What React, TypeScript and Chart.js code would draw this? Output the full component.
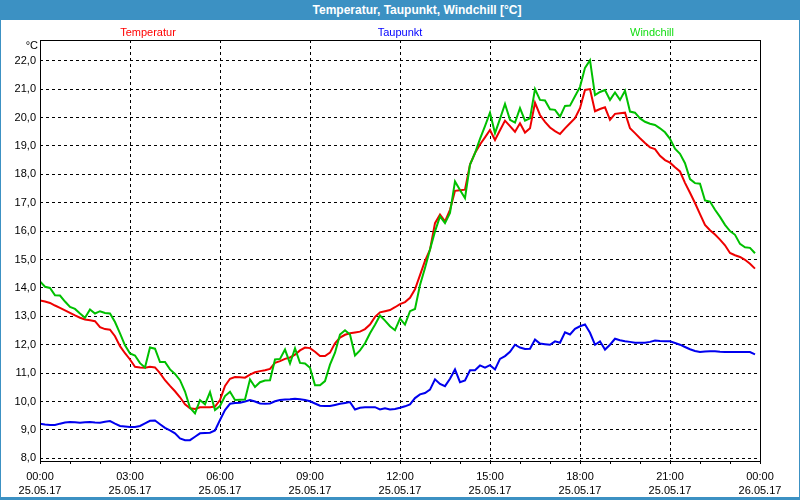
import React, { useEffect, useRef } from "react";
import { Chart, registerables } from "chart.js";

Chart.register(...registerables);

// --- data (10-minute samples, 25.05.17 00:00 .. 23:50) ---
const sampleMinutes = 10;

const temperatur = [
  13.56, 13.52, 13.47, 13.38, 13.3, 13.21, 13.12, 13.03, 12.95, 12.89, 12.86, 12.83,
  12.62, 12.55, 12.53, 12.3, 11.95, 11.7, 11.48, 11.22, 11.2, 11.19, 11.22, 11.2,
  11.0, 10.75, 10.55, 10.36, 10.15, 9.9, 9.76, 9.74, 9.8, 9.8, 9.8, 9.82,
  10.05, 10.55, 10.8, 10.86, 10.85, 10.84, 10.95, 11.03, 11.07, 11.1, 11.15, 11.36,
  11.42, 11.5, 11.55, 11.65, 11.8, 11.9, 11.88, 11.75, 11.6, 11.6, 11.72, 12.05,
  12.25, 12.35, 12.4, 12.43, 12.46, 12.55, 12.71, 12.98, 13.14, 13.18, 13.22, 13.32,
  13.43, 13.5, 13.65, 13.95, 14.45, 14.95, 15.35, 16.28, 16.58, 16.34, 16.75, 17.42,
  17.44, 17.46, 18.34, 18.75, 19.05, 19.3, 19.56, 19.21, 19.55, 19.89, 19.7, 19.5,
  19.8, 19.47, 19.62, 20.52, 20.09, 19.85, 19.65, 19.52, 19.42, 19.62, 19.8, 19.98,
  20.33, 20.97, 21.0, 20.22, 20.3, 20.36, 19.92, 20.13, 20.15, 20.17, 19.62, 19.45,
  19.27, 19.1, 18.95, 18.89, 18.65, 18.5, 18.41, 18.25, 18.1, 17.7, 17.35, 16.99,
  16.6, 16.22, 16.03, 15.88, 15.7, 15.5, 15.23, 15.15, 15.09, 14.99, 14.85, 14.68,
];

const taupunkt = [
  9.22, 9.19, 9.17, 9.17, 9.22, 9.26, 9.28, 9.27, 9.25, 9.27, 9.28, 9.26,
  9.25, 9.29, 9.31, 9.22, 9.14, 9.12, 9.1, 9.1, 9.14, 9.23, 9.32, 9.33,
  9.2, 9.07, 8.98, 8.88, 8.7, 8.64, 8.64, 8.76, 8.88, 8.89, 8.9, 8.98,
  9.35, 9.7, 9.92, 9.95, 9.96, 10.0, 10.05, 10.0, 9.93, 9.92, 9.93, 10.01,
  10.05, 10.07, 10.08, 10.1, 10.08, 10.05, 10.01, 9.93, 9.85, 9.84, 9.84, 9.88,
  9.92, 9.95, 9.98, 9.72, 9.78, 9.8, 9.8, 9.8, 9.72, 9.76, 9.72, 9.74,
  9.78, 9.83, 9.9, 10.12, 10.25, 10.3, 10.42, 10.78, 10.62, 10.54, 10.8, 11.13,
  10.68, 10.74, 11.1, 11.1, 11.27, 11.19, 11.28, 11.13, 11.5, 11.6, 11.75, 12.0,
  11.9, 11.85, 11.86, 12.18, 12.04, 12.02, 12.0, 12.12, 12.07, 12.44, 12.36, 12.56,
  12.65, 12.71, 12.42, 12.0, 12.12, 11.83, 12.0, 12.21, 12.16, 12.12, 12.1, 12.07,
  12.07, 12.07, 12.1, 12.15, 12.13, 12.12, 12.12, 12.06, 12.0, 11.92, 11.84, 11.78,
  11.74, 11.76, 11.77, 11.77, 11.75, 11.74, 11.74, 11.74, 11.74, 11.74, 11.74, 11.66,
];

const windchill = [
  14.23, 14.04, 14.0, 13.74, 13.73, 13.52, 13.33, 13.26, 13.1, 12.95, 13.24, 13.1,
  13.18, 13.12, 13.1, 12.8, 12.4, 11.98, 11.69, 11.62, 11.35, 11.2, 11.9, 11.86,
  11.39, 11.39, 11.13, 10.97, 10.75, 10.35, 9.78, 9.58, 10.05, 9.9, 10.33, 9.7,
  9.84, 10.19, 10.34, 10.05, 10.06, 10.07, 10.78, 10.51, 10.68, 10.74, 10.75, 11.48,
  11.5, 11.83, 11.34, 11.87, 11.36, 11.34, 11.19, 10.57, 10.57, 10.72, 11.3, 11.72,
  12.36, 12.51, 12.36, 11.62, 11.8, 12.05, 12.4, 12.7, 13.03, 12.85, 12.65, 12.51,
  12.92, 12.71, 13.18, 13.26, 14.1, 14.7, 15.35, 15.99, 16.52, 16.28, 16.64, 17.75,
  17.45, 17.16, 18.34, 18.75, 19.25, 19.7, 20.17, 19.45, 19.95, 20.48, 19.92, 19.82,
  20.33, 19.89, 19.97, 21.0, 20.62, 20.6, 20.29, 20.27, 20.03, 20.41, 20.42, 20.75,
  21.08, 21.75, 22.02, 20.79, 20.9, 20.97, 20.62, 20.88, 20.62, 20.94, 20.21, 20.17,
  19.97, 19.85, 19.78, 19.74, 19.62, 19.48, 19.25, 18.9, 18.72, 18.39, 17.83, 17.69,
  17.67, 17.08, 17.04, 16.75, 16.5, 16.22, 16.0, 15.87, 15.55, 15.43, 15.41, 15.22,
];

const timeLabels = ["00:00", "03:00", "06:00", "09:00", "12:00", "15:00", "18:00", "21:00", "00:00"];
const dateLabels = ["25.05.17", "25.05.17", "25.05.17", "25.05.17", "25.05.17", "25.05.17", "25.05.17", "25.05.17", "26.05.17"];
const seriesNames = ["Temperatur", "Taupunkt", "Windchill"];
const titleText = "Temperatur, Taupunkt, Windchill [°C]";
const unitText = "°C";

const FONT = "'Liberation Sans', Arial, sans-serif";
const lineColors = ["#ee0000", "#0000ee", "#00c000"];
const legendColors = ["#ff0000", "#0000ff", "#11dd11"];

const toPoints = (arr: number[]) => arr.map((v, i) => ({ x: (i * sampleMinutes) / 60, y: v }));

const chartDecor = {
  id: "chartDecor",
  afterDatasetsDraw(chart: any) {
    const { ctx, chartArea } = chart;
    const { left, top, right, bottom } = chartArea;
    ctx.save();
    ctx.strokeStyle = "#000";
    ctx.lineWidth = 1;
    ctx.setLineDash([]);
    ctx.strokeRect(left + 0.5, top + 0.5, right - left, bottom - top);
    ctx.restore();
  },
  afterDraw(chart: any) {
    const { ctx, chartArea } = chart;
    const cx = (chartArea.left + chartArea.right) / 2;
    const offsets = [-252, 0, 252];
    ctx.save();
    ctx.font = `11px ${FONT}`;
    ctx.textAlign = "center";
    ctx.textBaseline = "middle";
    chart.data.datasets.forEach((ds: any, i: number) => {
      ctx.fillStyle = legendColors[i];
      ctx.fillText(ds.label, cx + offsets[i], 12.5);
    });
    ctx.fillStyle = "#000";
    ctx.textAlign = "right";
    ctx.fillText(unitText, chartArea.left - 2, 26);
    ctx.restore();
  },
};

export default function App() {
  const ref = useRef<HTMLCanvasElement | null>(null);

  useEffect(() => {
    document.body.style.margin = "0";
    if (!ref.current) return;
    const chart = new Chart(ref.current, {
      type: "line",
      data: {
        datasets: [
          { label: seriesNames[0], data: toPoints(temperatur), borderColor: lineColors[0], order: 2 },
          { label: seriesNames[1], data: toPoints(taupunkt), borderColor: lineColors[1], order: 3 },
          { label: seriesNames[2], data: toPoints(windchill), borderColor: lineColors[2], order: 1 },
        ],
      },
      plugins: [chartDecor],
      options: {
        animation: false,
        responsive: false,
        devicePixelRatio: 1,
        layout: { padding: { left: 0, right: 39, top: 20, bottom: 0 } },
        elements: {
          line: { borderWidth: 2, tension: 0 },
          point: { radius: 0, hoverRadius: 0 },
        },
        plugins: {
          legend: { display: false },
          title: { display: false },
          tooltip: { enabled: false },
        },
        scales: {
          x: {
            type: "linear",
            min: 0,
            max: 24,
            afterFit: (s: any) => {
              s.height = 36;
            },
            border: { display: false, dash: [3, 3] },
            grid: {
              color: (c: any) => (c.tick && c.tick.value % 3 === 0 ? "#000" : "rgba(0,0,0,0)"),
              lineWidth: 1,
              drawTicks: true,
              tickLength: 3,
              tickColor: "#000",
              tickBorderDash: [],
            },
            ticks: {
              stepSize: 1,
              autoSkip: false,
              maxRotation: 0,
              padding: 5,
              color: "#000",
              font: { family: FONT, size: 11, lineHeight: 1.36 },
              callback: (v: any) => {
                const n = Number(v);
                if (n % 3 !== 0) return "";
                const k = n / 3;
                return [timeLabels[k], dateLabels[k]];
              },
            },
          },
          y: {
            min: 7.905,
            max: 22.73,
            afterFit: (s: any) => {
              s.width = 39;
            },
            border: { display: false, dash: [3, 3] },
            grid: { color: "#000", lineWidth: 1, drawTicks: false },
            ticks: {
              stepSize: 1,
              includeBounds: false,
              padding: 4,
              color: "#000",
              font: { family: FONT, size: 11 },
              callback: (v: any) => Number(v).toFixed(1).replace(".", ","),
            },
          },
        },
      },
    } as any);
    return () => chart.destroy();
  }, []);

  return (
    <div
      style={{
        position: "fixed",
        left: 0,
        top: 0,
        width: 800,
        height: 500,
        background: "#3c91c3",
        overflow: "hidden",
      }}
    >
      <div
        style={{
          position: "absolute",
          left: 0,
          top: 0,
          width: 800,
          height: 20,
          lineHeight: "20px",
          textAlign: "center",
          paddingLeft: 34,
          boxSizing: "border-box",
          color: "#fff",
          fontFamily: FONT,
          fontWeight: "bold",
          fontSize: 12,
        }}
      >
        {titleText}
      </div>
      <div style={{ position: "absolute", left: 1, top: 20, width: 798, height: 477, background: "#fff" }}>
        <canvas ref={ref} width={798} height={477} style={{ display: "block", width: 798, height: 477 }} />
      </div>
    </div>
  );
}
